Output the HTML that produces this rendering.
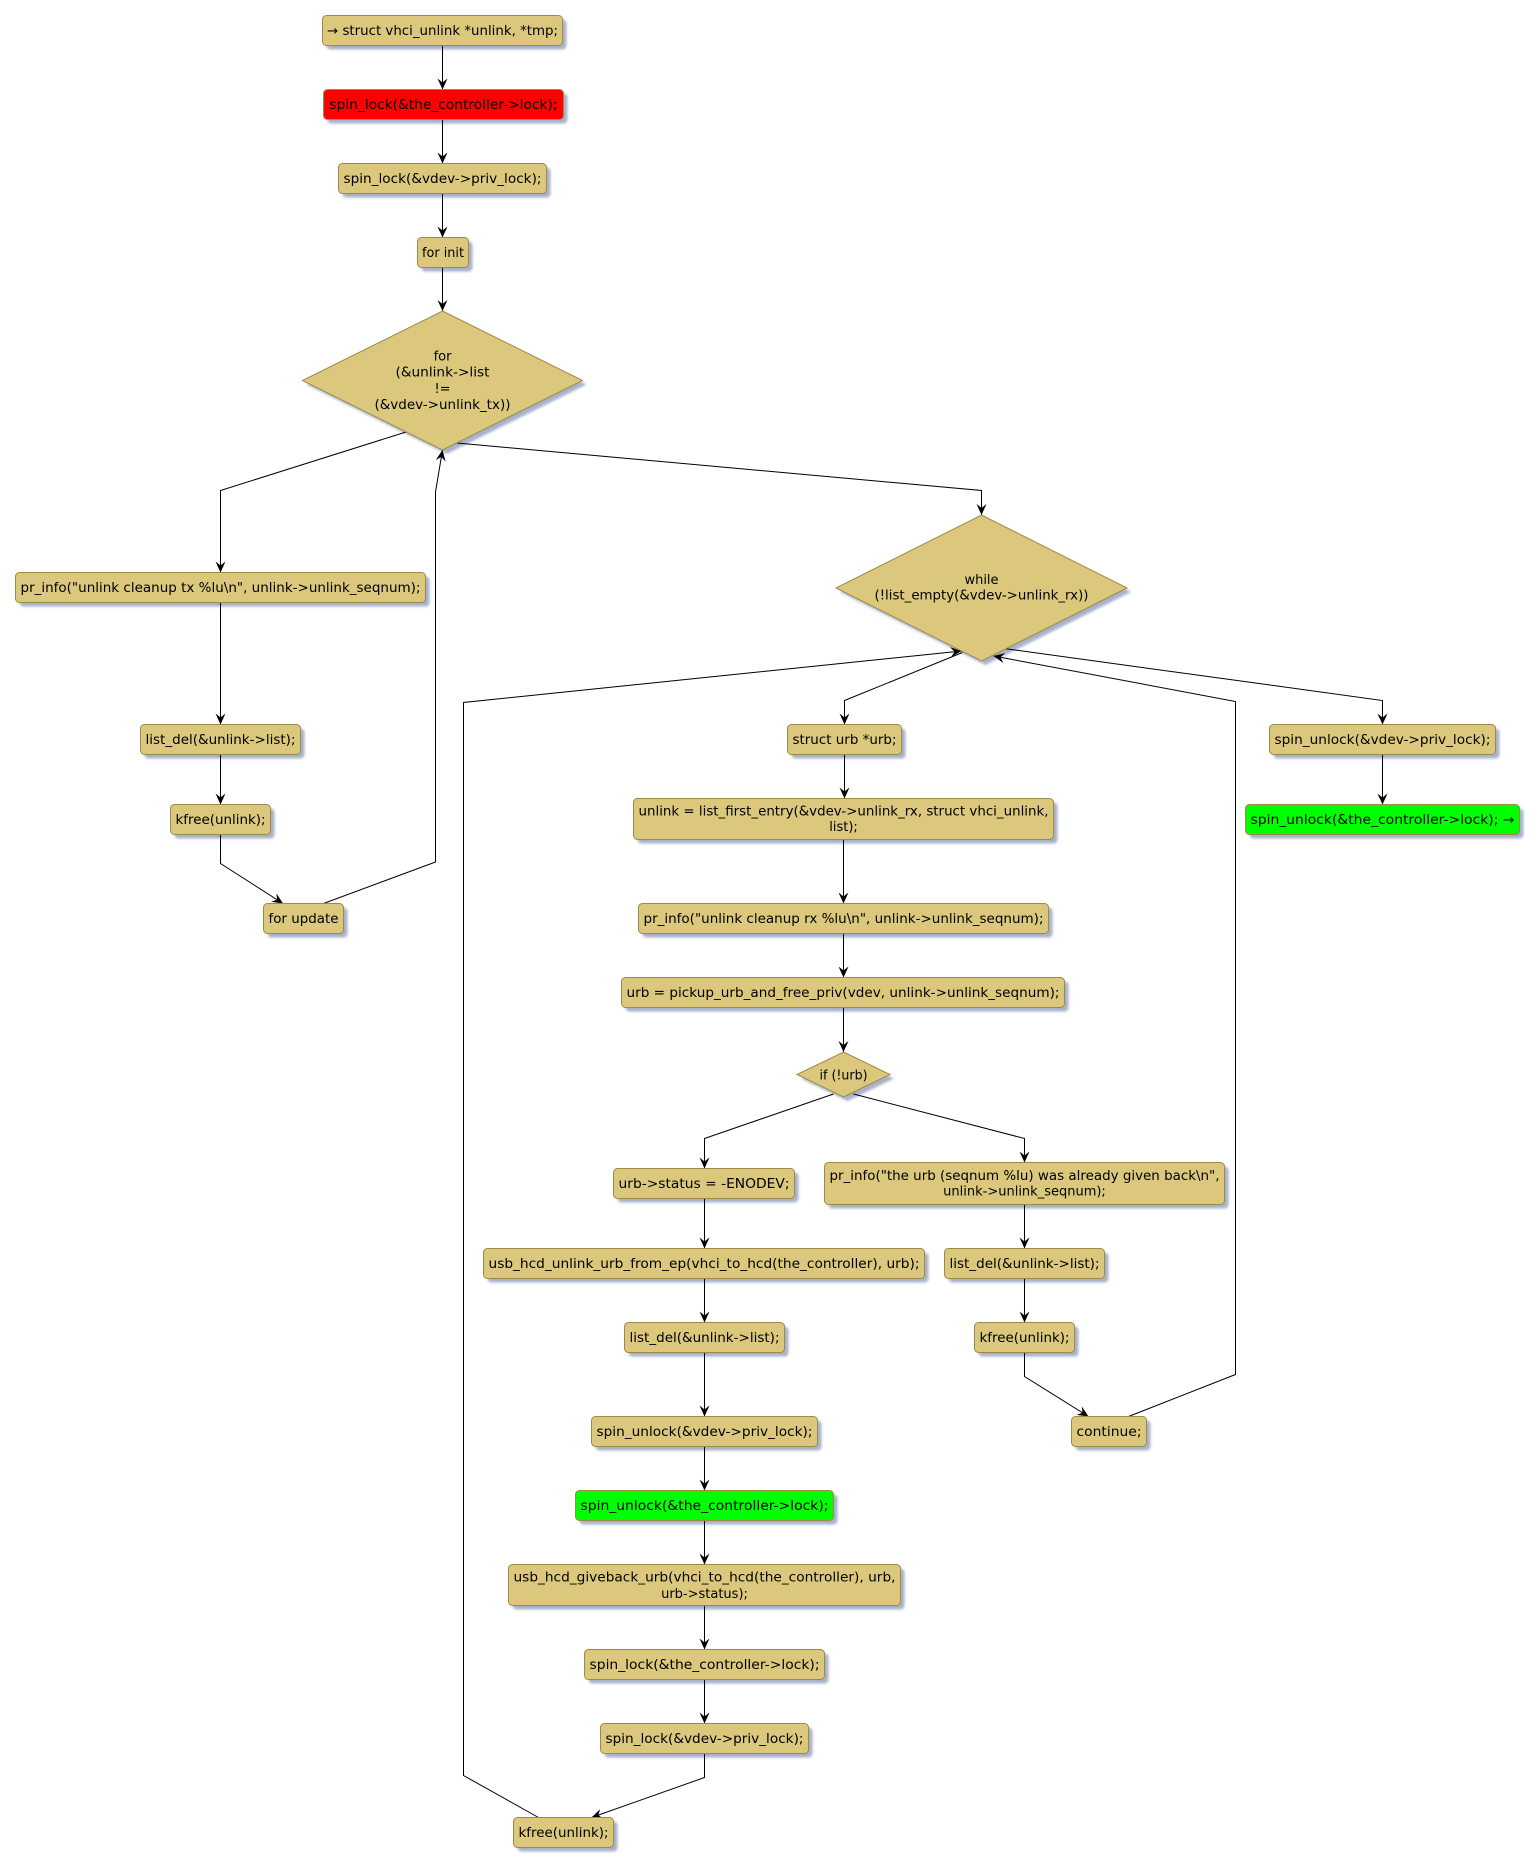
<!DOCTYPE html>
<html><head><meta charset="utf-8"><style>
html,body{margin:0;padding:0;background:#fff;}
svg{display:block;}
text{font-family:"DejaVu Sans","Liberation Sans",sans-serif;font-size:13px;fill:#000;}
</style></head><body>
<svg width="1538" height="1866" viewBox="0 0 1538 1866" xmlns="http://www.w3.org/2000/svg">
<defs>
<filter id="sh" x="-10%" y="-10%" width="130%" height="130%"><feGaussianBlur stdDeviation="1.2"/></filter>
<marker id="ar" viewBox="0 0 11 10" refX="11" refY="5" markerWidth="11" markerHeight="10" markerUnits="userSpaceOnUse" orient="auto"><path d="M0,0 L11,5 L0,10 L4,5 Z" fill="#000"/></marker>
</defs>

<!-- shadows -->
<g fill="#a6b2ca" filter="url(#sh)">
<rect x="326.5" y="19.5" width="240" height="30" rx="4"/>
<rect x="327.5" y="93.5" width="240" height="30" rx="4"/>
<rect x="342.5" y="167.5" width="208" height="30" rx="4"/>
<rect x="421.5" y="241.5" width="51" height="30" rx="4"/>
<polygon points="446.5,315 586.5,384.5 446.5,454 306.5,384.5"/>
<rect x="19.5" y="576.5" width="410" height="30" rx="4"/>
<rect x="144.5" y="728.5" width="160" height="30" rx="4"/>
<rect x="174.5" y="808.5" width="100" height="30" rx="4"/>
<rect x="267.5" y="907.5" width="80" height="30" rx="4"/>
<polygon points="985.5,519 1131,592 985.5,665 840,592"/>
<rect x="791.5" y="728.5" width="114" height="30" rx="4"/>
<rect x="637.5" y="802.5" width="420" height="41" rx="4"/>
<rect x="642.5" y="907.5" width="410" height="30" rx="4"/>
<rect x="625.5" y="981.5" width="443" height="30" rx="4"/>
<polygon points="847.5,1056 894,1078.5 847.5,1101 801,1078.5"/>
<rect x="617.5" y="1172.5" width="181" height="30" rx="4"/>
<rect x="487.5" y="1252.5" width="441" height="30" rx="4"/>
<rect x="628.5" y="1326.5" width="160" height="30" rx="4"/>
<rect x="595.5" y="1420.5" width="226" height="30" rx="4"/>
<rect x="579.5" y="1494.5" width="258" height="30" rx="4"/>
<rect x="512.5" y="1568.5" width="392" height="41" rx="4"/>
<rect x="588.5" y="1653.5" width="240" height="30" rx="4"/>
<rect x="604.5" y="1727.5" width="208" height="30" rx="4"/>
<rect x="517.5" y="1821.5" width="100" height="30" rx="4"/>
<rect x="828.5" y="1166.5" width="400" height="42" rx="4"/>
<rect x="948.5" y="1252.5" width="160" height="30" rx="4"/>
<rect x="978.5" y="1326.5" width="100" height="30" rx="4"/>
<rect x="1075.5" y="1420.5" width="75" height="30" rx="4"/>
<rect x="1273.5" y="728.5" width="226" height="30" rx="4"/>
<rect x="1249.5" y="808.5" width="274" height="30" rx="4"/>
</g>

<!-- edges -->
<g fill="none" stroke="#000" stroke-width="1" marker-end="url(#ar)">
<polyline points="442.5,45.5 442.5,89.5"/>
<polyline points="442.5,119.5 442.5,163.5"/>
<polyline points="442.5,193.5 442.5,237.5"/>
<polyline points="442.5,267.5 442.5,311"/>
<polyline points="406,432 220.5,490.5 220.5,572.5"/>
<polyline points="220.5,602.5 220.5,724.5"/>
<polyline points="220.5,754.5 220.5,804.5"/>
<polyline points="220.5,834.5 220.5,863.5 283,903.5"/>
<polyline points="323.5,903.5 435.5,862 435.5,492 442.5,450"/>
<polyline points="457,443 981.5,490.5 981.5,515"/>
<polyline points="962.5,652.5 844.5,700.5 844.5,724.5"/>
<polyline points="1004,648.5 1382.5,700.5 1382.5,724.5"/>
<polyline points="1382.5,754.5 1382.5,804.5"/>
<polyline points="844.5,754.5 844.5,798.5"/>
<polyline points="843.5,839.5 843.5,903.5"/>
<polyline points="843.5,933.5 843.5,977.5"/>
<polyline points="843.5,1007.5 843.5,1052"/>
<polyline points="833.5,1094 704.5,1138.5 704.5,1168.5"/>
<polyline points="853.5,1094 1024.5,1138.5 1024.5,1162.5"/>
<polyline points="704.5,1198.5 704.5,1248.5"/>
<polyline points="704.5,1278.5 704.5,1322.5"/>
<polyline points="704.5,1352.5 704.5,1416.5"/>
<polyline points="704.5,1446.5 704.5,1490.5"/>
<polyline points="704.5,1520.5 704.5,1564.5"/>
<polyline points="704.5,1605.5 704.5,1649.5"/>
<polyline points="704.5,1679.5 704.5,1723.5"/>
<polyline points="704.5,1753.5 704.5,1777.5 591.5,1817.5"/>
<polyline points="538.5,1817.5 463.5,1775.5 463.5,702.5 961.5,651"/>
<polyline points="1024.5,1204.5 1024.5,1248.5"/>
<polyline points="1024.5,1278.5 1024.5,1322.5"/>
<polyline points="1024.5,1352.5 1024.5,1376.5 1088.5,1416.5"/>
<polyline points="1128.5,1416.5 1235.5,1374.5 1235.5,701.5 993.5,656"/>
</g>

<!-- nodes -->
<g stroke="#9e8a46" stroke-width="1" fill="#dbc87c">
<rect x="322.5" y="15.5" width="240" height="30" rx="4"/>
<rect x="323.5" y="89.5" width="240" height="30" rx="4" fill="#ff0000"/>
<rect x="338.5" y="163.5" width="208" height="30" rx="4"/>
<rect x="417.5" y="237.5" width="51" height="30" rx="4"/>
<polygon points="442.5,311 582.5,380.5 442.5,450 302.5,380.5"/>
<rect x="15.5" y="572.5" width="410" height="30" rx="4"/>
<rect x="140.5" y="724.5" width="160" height="30" rx="4"/>
<rect x="170.5" y="804.5" width="100" height="30" rx="4"/>
<rect x="263.5" y="903.5" width="80" height="30" rx="4"/>
<polygon points="981.5,515 1127,588 981.5,661 836,588"/>
<rect x="787.5" y="724.5" width="114" height="30" rx="4"/>
<rect x="633.5" y="798.5" width="420" height="41" rx="4"/>
<rect x="638.5" y="903.5" width="410" height="30" rx="4"/>
<rect x="621.5" y="977.5" width="443" height="30" rx="4"/>
<polygon points="843.5,1052 890,1074.5 843.5,1097 797,1074.5"/>
<rect x="613.5" y="1168.5" width="181" height="30" rx="4"/>
<rect x="483.5" y="1248.5" width="441" height="30" rx="4"/>
<rect x="624.5" y="1322.5" width="160" height="30" rx="4"/>
<rect x="591.5" y="1416.5" width="226" height="30" rx="4"/>
<rect x="575.5" y="1490.5" width="258" height="30" rx="4" fill="#00ff00"/>
<rect x="508.5" y="1564.5" width="392" height="41" rx="4"/>
<rect x="584.5" y="1649.5" width="240" height="30" rx="4"/>
<rect x="600.5" y="1723.5" width="208" height="30" rx="4"/>
<rect x="513.5" y="1817.5" width="100" height="30" rx="4"/>
<rect x="824.5" y="1162.5" width="400" height="42" rx="4"/>
<rect x="944.5" y="1248.5" width="160" height="30" rx="4"/>
<rect x="974.5" y="1322.5" width="100" height="30" rx="4"/>
<rect x="1071.5" y="1416.5" width="75" height="30" rx="4"/>
<rect x="1269.5" y="724.5" width="226" height="30" rx="4"/>
<rect x="1245.5" y="804.5" width="274" height="30" rx="4" fill="#00ff00"/>
</g>

<!-- labels -->
<g text-anchor="middle">
<text x="442.5" y="35" textLength="231" lengthAdjust="spacingAndGlyphs">→ struct vhci_unlink *unlink, *tmp;</text>
<text x="443.5" y="109" textLength="228" lengthAdjust="spacingAndGlyphs">spin_lock(&amp;the_controller-&gt;lock);</text>
<text x="442.5" y="183" textLength="198" lengthAdjust="spacingAndGlyphs">spin_lock(&amp;vdev-&gt;priv_lock);</text>
<text x="443" y="257" textLength="42" lengthAdjust="spacingAndGlyphs">for init</text>
<text x="442.5" y="360.5">for</text>
<text x="442.5" y="376.7" textLength="94" lengthAdjust="spacingAndGlyphs">(&amp;unlink-&gt;list</text>
<text x="442.5" y="392.9">!=</text>
<text x="442.5" y="409.1" textLength="136" lengthAdjust="spacingAndGlyphs">(&amp;vdev-&gt;unlink_tx))</text>
<text x="220.5" y="592" textLength="400" lengthAdjust="spacingAndGlyphs">pr_info("unlink cleanup tx %lu\n", unlink-&gt;unlink_seqnum);</text>
<text x="220.5" y="744" textLength="150" lengthAdjust="spacingAndGlyphs">list_del(&amp;unlink-&gt;list);</text>
<text x="220.5" y="824" textLength="90" lengthAdjust="spacingAndGlyphs">kfree(unlink);</text>
<text x="303.5" y="923" textLength="70" lengthAdjust="spacingAndGlyphs">for update</text>
<text x="981.5" y="584">while</text>
<text x="981.5" y="599.7" textLength="214" lengthAdjust="spacingAndGlyphs">(!list_empty(&amp;vdev-&gt;unlink_rx))</text>
<text x="844.5" y="744" textLength="104" lengthAdjust="spacingAndGlyphs">struct urb *urb;</text>
<text x="843.5" y="815.5" textLength="410" lengthAdjust="spacingAndGlyphs">unlink = list_first_entry(&amp;vdev-&gt;unlink_rx, struct vhci_unlink,</text>
<text x="843.5" y="831.2">list);</text>
<text x="843.5" y="923" textLength="400" lengthAdjust="spacingAndGlyphs">pr_info("unlink cleanup rx %lu\n", unlink-&gt;unlink_seqnum);</text>
<text x="843" y="997" textLength="433" lengthAdjust="spacingAndGlyphs">urb = pickup_urb_and_free_priv(vdev, unlink-&gt;unlink_seqnum);</text>
<text x="843.5" y="1079.5" textLength="48" lengthAdjust="spacingAndGlyphs">if (!urb)</text>
<text x="704" y="1188" textLength="171" lengthAdjust="spacingAndGlyphs">urb-&gt;status = -ENODEV;</text>
<text x="704" y="1268" textLength="431" lengthAdjust="spacingAndGlyphs">usb_hcd_unlink_urb_from_ep(vhci_to_hcd(the_controller), urb);</text>
<text x="704.5" y="1342" textLength="150" lengthAdjust="spacingAndGlyphs">list_del(&amp;unlink-&gt;list);</text>
<text x="704.5" y="1436" textLength="216" lengthAdjust="spacingAndGlyphs">spin_unlock(&amp;vdev-&gt;priv_lock);</text>
<text x="704.5" y="1510" textLength="248" lengthAdjust="spacingAndGlyphs">spin_unlock(&amp;the_controller-&gt;lock);</text>
<text x="704.5" y="1581.5" textLength="382" lengthAdjust="spacingAndGlyphs">usb_hcd_giveback_urb(vhci_to_hcd(the_controller), urb,</text>
<text x="704.5" y="1597.8">urb-&gt;status);</text>
<text x="704.5" y="1669" textLength="230" lengthAdjust="spacingAndGlyphs">spin_lock(&amp;the_controller-&gt;lock);</text>
<text x="704.5" y="1743" textLength="198" lengthAdjust="spacingAndGlyphs">spin_lock(&amp;vdev-&gt;priv_lock);</text>
<text x="563.5" y="1837" textLength="90" lengthAdjust="spacingAndGlyphs">kfree(unlink);</text>
<text x="1024.5" y="1180" textLength="390" lengthAdjust="spacingAndGlyphs">pr_info("the urb (seqnum %lu) was already given back\n",</text>
<text x="1024.5" y="1195.5">unlink-&gt;unlink_seqnum);</text>
<text x="1024.5" y="1268" textLength="150" lengthAdjust="spacingAndGlyphs">list_del(&amp;unlink-&gt;list);</text>
<text x="1024.5" y="1342" textLength="90" lengthAdjust="spacingAndGlyphs">kfree(unlink);</text>
<text x="1109" y="1436" textLength="65" lengthAdjust="spacingAndGlyphs">continue;</text>
<text x="1382.5" y="744" textLength="216" lengthAdjust="spacingAndGlyphs">spin_unlock(&amp;vdev-&gt;priv_lock);</text>
<text x="1382.5" y="824" textLength="264" lengthAdjust="spacingAndGlyphs">spin_unlock(&amp;the_controller-&gt;lock); →</text>
</g>
</svg>
</body></html>
